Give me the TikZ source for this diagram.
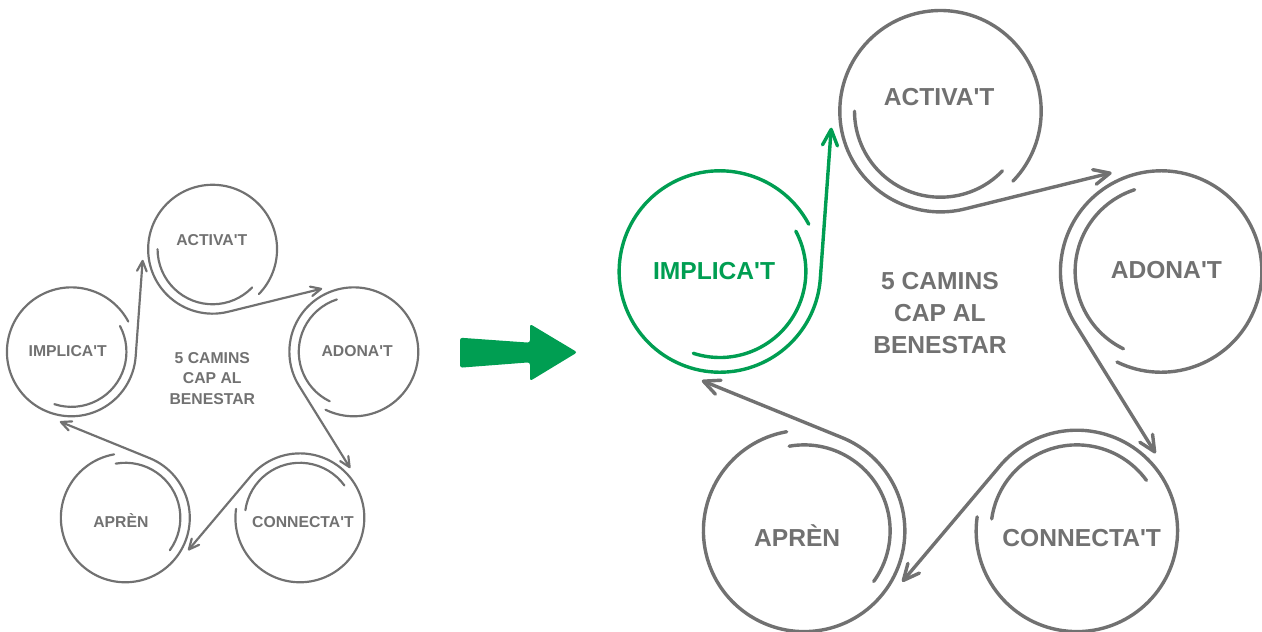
\documentclass[tikz,border=0pt]{standalone}
\usepackage{fontspec}
\setmainfont{Liberation Sans}[Ligatures=TeXOff]
\usetikzlibrary{arrows.meta,calc}
\definecolor{linegray}{RGB}{113,113,113}
\definecolor{hlgreen}{RGB}{0,158,82}
\tikzset{
  ringspot/.style={circle, draw=none, inner sep=0pt, outer sep=0pt},
  ringlabel/.style={inner sep=0pt, outer sep=0pt, anchor=center},
  ringline/.style={line cap=round, line join=round},
  centertext/.style={align=center, inner sep=0pt, outer sep=0pt, text=linegray},
}
% #1 prefix, #2 #3 pentagon centre, #4 scale, #5 colour of IMPLICA'T
\newcommand\pentadiagram[5]{%
  \pgfmathsetmacro\Rr{232*#4}%
  \pgfmathsetmacro\rO{100.7*#4}%
  \pgfmathsetmacro\rI{86*#4}%
  \pgfmathsetmacro\lw{3.4*#4}%
  \pgfmathsetmacro\fs{24.6*#4}%
  \pgfmathsetmacro\fb{31.7*#4}%
  \pgfmathsetmacro\capht{0.716*\fs}%
  \pgfmathsetmacro\al{16*#4}%
  \pgfmathsetmacro\aw{15*#4}%
  \pgfmathsetmacro\rT{110.5*#4}%
  \colorlet{#1actcol}{linegray}%
  \colorlet{#1adocol}{linegray}%
  \colorlet{#1concol}{linegray}%
  \colorlet{#1aprcol}{linegray}%
  \colorlet{#1impcol}{#5}%
  \coordinate (#1P) at (#2,#3);
  \node[centertext, font=\fontsize{\fs}{\fb}\selectfont\bfseries] (#1mid)
    at ($(#1P)+(-0.5*#4,30*#4)$) {5 CAMINS\\CAP AL\\BENESTAR};
  \foreach \nm/\an/\txt/\dx/\dy in {act/90/ACTIVA'T/-1.3/14.5,
      ado/18/ADONA'T/5.2/1.8, con/-54/CONNECTA'T/4.8/-6.7,
      apr/-126/APRÈN/-7/-6.7, imp/162/IMPLICA'T/-5.8/1.3}{
    \node[ringspot, minimum size=2*\rO] (#1\nm) at ($(#1P)+(\an:\Rr)$) {};
    \node[ringlabel, text=#1\nm col, text height=\capht pt, text depth=0pt,
      font=\fontsize{\fs}{\fb}\selectfont\bfseries] (#1\nm lab)
      at ($(#1\nm)+(\dx*#4,\dy*#4)$) {\txt};
  }
  \foreach \nm/\an/\nx/\tn in {act/90/ado/18, ado/18/con/-54, con/-54/apr/-126,
      apr/-126/imp/162, imp/162/act/90}{
    \coordinate (#1\nm tip) at ($(#1\nx)+(\tn+98.6:\rT)$);
    \draw[ringline, draw=#1\nm col, line width=\lw pt]
      ($(#1\nm)+(\an-134:\rI)$) arc[start angle=\an-134, delta angle=-136, radius=\rI];
    \draw[ringline, draw=#1\nm col, line width=\lw pt,
      -{Straight Barb[length=\al pt, width=\aw pt, round]}]
      ($(#1\nm)+(\an-134:\rO)$) arc[start angle=\an-134, delta angle=328, radius=\rO]
      -- (#1\nm tip);
  }
}
\begin{document}
\begin{tikzpicture}[x=1pt,y=1pt]
  \useasboundingbox (0,0) rectangle (1262,-632);
  \pentadiagram{L}{212.6}{-397.7}{0.64}{linegray}
  \pentadiagram{R}{940.5}{-343.2}{1}{hlgreen}
  \fill[hlgreen, rounded corners=2.5pt] (460,-337.7) -- (530,-342.7) -- (530,-324)
    -- (577.3,-352.3) -- (530,-381) -- (530,-362.3) -- (460,-367.7) -- cycle;
\end{tikzpicture}
\end{document}
